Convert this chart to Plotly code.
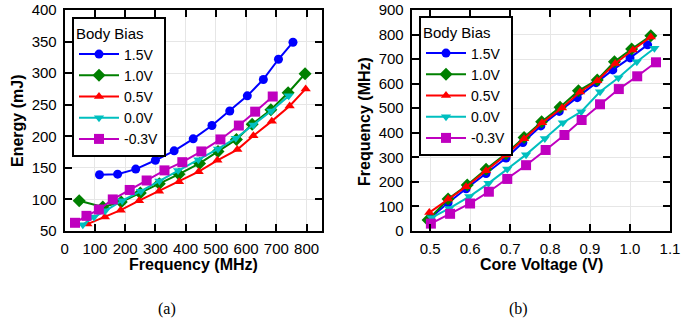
import plotly.graph_objects as go

# ---------- Data ----------
series_names = ["1.5V", "1.0V", "0.5V", "0.0V", "-0.3V"]

# (a) Energy vs Frequency
freq_15 = [115, 175, 235, 300, 362, 425, 487, 546, 604, 657, 707, 755]
energy_15 = [139, 140, 148, 162, 177, 196, 217, 240, 264, 290, 322, 349]
freq_10 = [48, 126, 187, 250, 313, 378, 446, 507, 568, 620, 682, 739, 795]
energy_10 = [98, 88, 96, 110, 125, 140, 157, 176, 195, 219, 242, 269, 299]
freq_05 = [75, 133, 185, 246, 312, 378, 443, 505, 571, 624, 685, 744, 797]
energy_05 = [61, 72, 83, 98, 113, 128, 144, 162, 179, 201, 224, 248, 275]
freq_00 = [60, 97, 134, 190, 252, 313, 375, 442, 507, 566, 624, 683, 741]
energy_00 = [60, 72, 82, 98, 113, 129, 146, 163, 180, 197, 218, 240, 264]
freq_m03 = [34, 72, 113, 159, 215, 271, 330, 389, 452, 515, 576, 630, 688]
energy_m03 = [63, 74, 84, 100, 115, 130, 146, 159, 176, 195, 217, 239, 263]

# (b) Frequency vs Core Voltage
volt_15 = [0.50, 0.545, 0.59, 0.64, 0.69, 0.732, 0.777, 0.823, 0.868, 0.915, 0.957, 1.0, 1.044]
fmax_15 = [52, 115, 172, 234, 297, 360, 428, 487, 543, 604, 656, 705, 758]
volt_10 = [0.495, 0.545, 0.593, 0.64, 0.69, 0.735, 0.779, 0.825, 0.871, 0.918, 0.961, 1.004, 1.052]
fmax_10 = [45, 130, 187, 251, 315, 381, 445, 504, 571, 615, 689, 741, 795]
volt_05 = [0.498, 0.545, 0.59, 0.64, 0.69, 0.735, 0.78, 0.83, 0.875, 0.918, 0.963, 1.007, 1.052]
fmax_05 = [75, 130, 180, 245, 310, 376, 441, 501, 566, 612, 682, 737, 790]
volt_00 = [0.504, 0.548, 0.598, 0.646, 0.693, 0.74, 0.787, 0.832, 0.878, 0.925, 0.971, 1.017, 1.061]
fmax_00 = [54, 92, 140, 194, 252, 311, 377, 441, 486, 567, 624, 689, 744]
volt_m03 = [0.502, 0.55, 0.6, 0.647, 0.693, 0.74, 0.789, 0.836, 0.879, 0.925, 0.972, 1.018, 1.065]
fmax_m03 = [30, 70, 112, 160, 212, 268, 330, 391, 452, 516, 578, 630, 687]

x_ticks_a = [0, 100, 200, 300, 400, 500, 600, 700, 800]
y_ticks_a = [50, 100, 150, 200, 250, 300, 350, 400]
x_ticks_b = [0.5, 0.6, 0.7, 0.8, 0.9, 1.0, 1.1]
x_ticktext_b = ["0.5", "0.6", "0.7", "0.8", "0.9", "1.0", "1.1"]
y_ticks_b = [0, 100, 200, 300, 400, 500, 600, 700, 800, 900]

colors = ["#0000FF", "#008000", "#FF0000", "#00BFBF", "#BF00BF"]
symbols = ["circle", "diamond", "triangle-up", "triangle-down", "square"]
sizes = [9, 10, 9, 9, 10]

data_a = [(freq_15, energy_15), (freq_10, energy_10), (freq_05, energy_05),
          (freq_00, energy_00), (freq_m03, energy_m03)]
data_b = [(volt_15, fmax_15), (volt_10, fmax_10), (volt_05, fmax_05),
          (volt_00, fmax_00), (volt_m03, fmax_m03)]

FONT = "Liberation Sans, Arial, sans-serif"
SERIF = "Liberation Serif, Times New Roman, serif"

fig = go.Figure()

for i, (xs, ys) in enumerate(data_a):
    fig.add_trace(go.Scatter(
        x=xs, y=ys, mode="lines+markers", name=series_names[i],
        line=dict(color=colors[i], width=2),
        marker=dict(symbol=symbols[i], size=sizes[i], color=colors[i]),
        xaxis="x", yaxis="y", legend="legend", legendgroup="a%d" % i,
        cliponaxis=False,
    ))
for i, (xs, ys) in enumerate(data_b):
    fig.add_trace(go.Scatter(
        x=xs, y=ys, mode="lines+markers", name=series_names[i],
        line=dict(color=colors[i], width=2),
        marker=dict(symbol=symbols[i], size=sizes[i], color=colors[i]),
        xaxis="x2", yaxis="y2", legend="legend2", legendgroup="b%d" % i,
        cliponaxis=False,
    ))

W, H = 698, 324
def px(x):
    return x / W
def py(y):
    return 1 - y / H

axis_common = dict(
    showline=True, linecolor="black", linewidth=2, mirror="ticks",
    ticks="inside", ticklen=7, tickwidth=1.5, tickcolor="black",
    showgrid=True, gridcolor="#e6e6e6", gridwidth=1,
    zeroline=False, automargin=False,
    tickfont=dict(family=FONT, size=15, color="black"),
)

legend_common = dict(
    xanchor="left", yanchor="top",
    bordercolor="black", borderwidth=2, bgcolor="white",
    title=dict(text="Body Bias", font=dict(family=FONT, size=15)),
    font=dict(family=FONT, size=14), traceorder="grouped",
    tracegroupgap=0, itemwidth=40,
)

fig.update_layout(
    width=W, height=H,
    margin=dict(l=0, r=0, t=0, b=0),
    paper_bgcolor="white", plot_bgcolor="white",
    font=dict(family=FONT, size=15, color="black"),
    xaxis=dict(axis_common, domain=[px(64.7), px(321.7)], range=[0, 850],
               tickvals=x_ticks_a, anchor="y", ticklabelstandoff=3),
    yaxis=dict(axis_common, domain=[py(231), py(10)], range=[50, 400],
               tickvals=y_ticks_a, anchor="x", ticklabelstandoff=3),
    xaxis2=dict(axis_common, domain=[px(411.7), px(670)], range=[0.454, 1.1],
                tickvals=x_ticks_b, ticktext=x_ticktext_b, anchor="y2",
                ticklabelstandoff=3),
    yaxis2=dict(axis_common, domain=[py(231), py(10)], range=[0, 900],
                tickvals=y_ticks_b, anchor="x2", ticklabelstandoff=3),
    legend=dict(legend_common, x=px(72), y=py(17)),
    legend2=dict(legend_common, x=px(419), y=py(16)),
    annotations=[
        dict(text="<b>Frequency (MHz)</b>", x=px(193), y=py(264), xref="paper", yref="paper",
             showarrow=False, font=dict(family=FONT, size=16), xanchor="center", yanchor="middle"),
        dict(text="<b>Energy (mJ)</b>", x=px(17), y=py(121), xref="paper", yref="paper",
             showarrow=False, font=dict(family=FONT, size=16), textangle=-90,
             xanchor="center", yanchor="middle"),
        dict(text="<b>Core Voltage (V)</b>", x=px(541), y=py(264), xref="paper", yref="paper",
             showarrow=False, font=dict(family=FONT, size=16), xanchor="center", yanchor="middle"),
        dict(text="<b>Frequency (MHz)</b>", x=px(364), y=py(121), xref="paper", yref="paper",
             showarrow=False, font=dict(family=FONT, size=16), textangle=-90,
             xanchor="center", yanchor="middle"),
        dict(text="(a)", x=px(167), y=py(309), xref="paper", yref="paper", showarrow=False,
             font=dict(family=SERIF, size=16), xanchor="center", yanchor="middle"),
        dict(text="(b)", x=px(518), y=py(309), xref="paper", yref="paper", showarrow=False,
             font=dict(family=SERIF, size=16), xanchor="center", yanchor="middle"),
    ],
)

fig.write_html("out.html")
